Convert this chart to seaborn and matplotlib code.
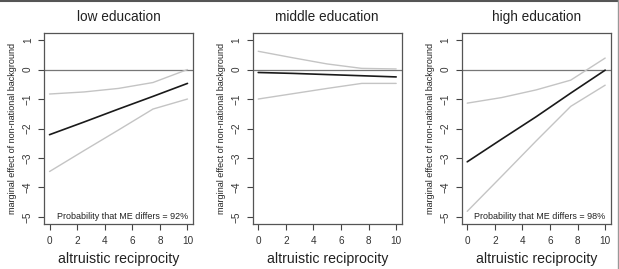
import matplotlib
matplotlib.use("Agg")
import matplotlib.pyplot as plt
from matplotlib.lines import Line2D
import pandas as pd
import seaborn as sns

RECIP = [0, 2.5, 5, 7.5, 10]

PANELS = ["low education", "middle education", "high education"]

LOW_ME = [-2.21, -1.78, -1.34, -0.91, -0.47]
LOW_UP = [-0.83, -0.76, -0.64, -0.44, 0.0]
LOW_LO = [-3.46, -2.75, -2.05, -1.34, -1.0]

MID_ME = [-0.10, -0.13, -0.17, -0.21, -0.25]
MID_UP = [0.62, 0.40, 0.19, 0.04, 0.02]
MID_LO = [-1.0, -0.82, -0.64, -0.47, -0.47]

HIGH_ME = [-3.13, -2.36, -1.60, -0.80, -0.02]
HIGH_UP = [-1.14, -0.95, -0.69, -0.36, 0.39]
HIGH_LO = [-4.81, -3.62, -2.42, -1.25, -0.53]

PROB_TEXT = ["Probability that ME differs = 92%", None, "Probability that ME differs = 98%"]

X_TICKS = [0, 2, 4, 6, 8, 10]
Y_TICKS = [1, 0, -1, -2, -3, -4, -5]


def build_frame() -> pd.DataFrame:
    rows = []
    series = {
        "low education": (LOW_ME, LOW_UP, LOW_LO),
        "middle education": (MID_ME, MID_UP, MID_LO),
        "high education": (HIGH_ME, HIGH_UP, HIGH_LO),
    }
    for panel, (me, up, lo) in series.items():
        for name, vals in (("me", me), ("upper", up), ("lower", lo)):
            for x, y in zip(RECIP, vals):
                rows.append({"panel": panel, "series": name, "recip": x, "effect": y})
    return pd.DataFrame(rows)


def main() -> None:
    sns.set_style("ticks")
    plt.rcParams["font.family"] = ["Liberation Sans", "DejaVu Sans"]

    df = build_frame()
    fig = plt.figure(figsize=(6.19, 2.69), dpi=100)
    lefts = [44 / 619, 252.7 / 619, 461.7 / 619]
    width = 149 / 619
    bottom = 1 - 224 / 269
    height = 191 / 269

    colors = {"me": "#1a1a1a", "upper": "#c4c4c4", "lower": "#c4c4c4"}

    for i, panel in enumerate(PANELS):
        ax = fig.add_axes([lefts[i], bottom, width, height])
        sub = df[df["panel"] == panel]
        ax.axhline(0, color="#777777", lw=0.9, zorder=1)
        for name in ("upper", "lower", "me"):
            s = sub[sub["series"] == name]
            sns.lineplot(data=s, x="recip", y="effect", ax=ax, color=colors[name],
                         lw=1.2 if name == "me" else 1.0, legend=False, zorder=2)
        ax.set_xlim(-0.4, 10.4)
        ax.set_ylim(-5.24, 1.24)
        ax.set_xticks(X_TICKS)
        ax.set_yticks(Y_TICKS)
        ax.tick_params(axis="both", direction="out", length=4, width=0.8,
                       color="#444444", labelsize=7.2, labelcolor="#333333")
        ax.tick_params(axis="x", pad=5)
        ax.tick_params(axis="y", pad=4)
        for lab in ax.get_yticklabels():
            lab.set_rotation(90)
            lab.set_va("center")
        for sp in ax.spines.values():
            sp.set_visible(True)
            sp.set_color("#555555")
            sp.set_linewidth(0.9)
        ax.set_title(panel, fontsize=9.8, color="#222222", pad=9)
        ax.set_xlabel("altruistic reciprocity", fontsize=10.2, color="#222222", labelpad=4)
        ax.set_ylabel("marginal effect of non-national background", fontsize=6.5,
                      color="#222222", labelpad=4)
        if PROB_TEXT[i]:
            ax.text(0.965, 0.014, PROB_TEXT[i], transform=ax.transAxes, ha="right",
                    va="bottom", fontsize=6.5, color="#222222")

    fig.add_artist(Line2D([0, 1], [0.997, 0.997], transform=fig.transFigure,
                          color="#555555", lw=1.5))
    fig.add_artist(Line2D([617.5 / 619, 617.5 / 619], [0, 1], transform=fig.transFigure,
                          color="#999999", lw=1.0))

    fig.savefig("out.png", dpi=100)
    plt.close(fig)


if __name__ == "__main__":
    main()
